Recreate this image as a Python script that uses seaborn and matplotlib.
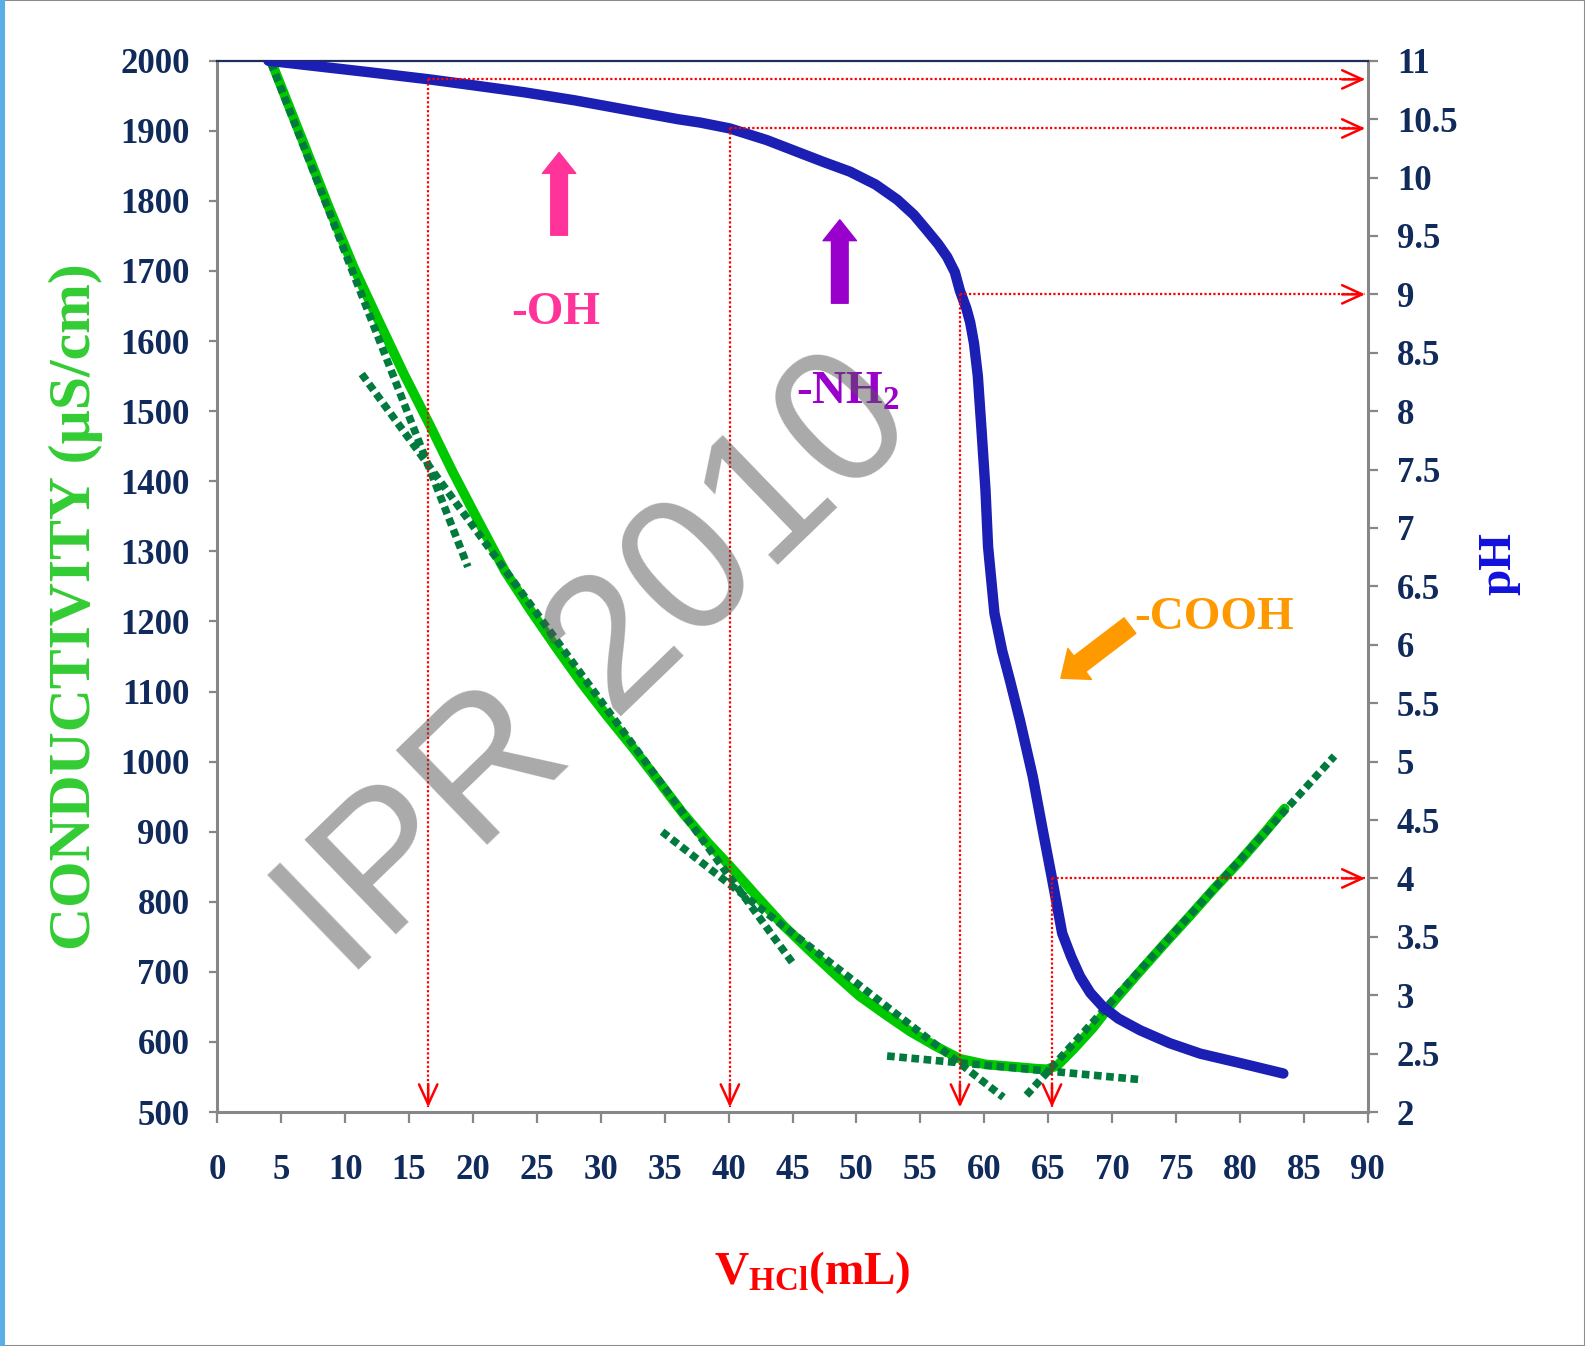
import matplotlib
matplotlib.use("Agg")
import matplotlib.pyplot as plt
import seaborn as sns
import pandas as pd
from matplotlib.patches import Rectangle

# ---------------- data ----------------
volume_cond = [4.2, 5.5, 6.7, 8.7, 10.7, 12.7, 14.6, 16.6, 18.4, 20.2, 22.5, 24.5,
               26.5, 28.5, 30.5, 32.5, 34.4, 36.4, 38.4, 40.1, 42.3, 44.3, 46.3, 48.3,
               50.2, 52.2, 54.2, 56.2, 58.1, 60.1, 62.1, 64.0, 64.9, 65.7, 67.0, 68.5,
               70.0, 72.0, 74.0, 76.0, 77.9, 80.0, 82.0, 83.5]
conductivity = [2000, 1940, 1885, 1792, 1704, 1626, 1553, 1481, 1414, 1351, 1272, 1216,
                1163, 1112, 1065, 1020, 975, 927, 884, 851, 806, 766, 731, 697,
                666, 640, 615, 594, 576, 568, 565, 562, 561, 566, 590, 620,
                655, 697, 738, 778, 817, 858, 900, 933]

volume_ph = [4.0, 8.0, 12.0, 16.6, 20.0, 24.0, 28.0, 32.0, 36.0, 37.8, 40.1, 43.0,
             45.6, 47.5, 49.5, 51.5, 53.2, 54.5, 55.5, 56.4, 57.1, 57.7, 58.1, 58.6,
             58.9, 59.2, 59.5, 59.8, 60.1, 60.3, 60.8, 61.4, 62.0, 62.8, 63.8, 64.6,
             65.3, 66.1, 66.8, 67.5, 68.3, 69.3, 70.5, 72.2, 74.5, 76.9, 80.0, 83.4]
ph_values = [11.0, 10.95, 10.9, 10.84, 10.79, 10.73, 10.66, 10.58, 10.5, 10.47, 10.42, 10.32,
             10.21, 10.13, 10.05, 9.94, 9.81, 9.68, 9.55, 9.43, 9.32, 9.19, 9.03, 8.88,
             8.76, 8.58, 8.3, 7.82, 7.32, 6.84, 6.27, 5.95, 5.7, 5.35, 4.87, 4.4,
             4.0, 3.53, 3.33, 3.16, 3.02, 2.90, 2.80, 2.70, 2.59, 2.50, 2.42, 2.33]

# straight tangent (trend) lines: start / end volume and conductivity
tangent_v = [[4.2, 19.6], [11.3, 45.0], [34.8, 61.5], [52.4, 72.4], [63.3, 87.4]]
tangent_c = [[1997, 1278], [1553, 713], [900, 521], [580, 546], [524, 1008]]

# equivalence points read on the pH curve
equiv_v = [16.5, 40.1, 58.1, 65.3]
equiv_ph = [10.84, 10.42, 9.0, 4.0]

x_ticks = list(range(0, 91, 5))
cond_ticks = list(range(500, 2001, 100))
ph_ticks = [2, 2.5, 3, 3.5, 4, 4.5, 5, 5.5, 6, 6.5, 7, 7.5, 8, 8.5, 9, 9.5, 10, 10.5, 11]

group_labels = ["-OH", "-NH$_{2}$", "-COOH"]
watermark = "IPR 2010"

# ---------------- style ----------------
sns.set_theme(style="white")
plt.rcParams["font.family"] = ["Liberation Serif", "DejaVu Serif"]
plt.rcParams["font.weight"] = "bold"
plt.rcParams["mathtext.fontset"] = "custom"
plt.rcParams["mathtext.rm"] = "Liberation Serif:bold"
plt.rcParams["mathtext.it"] = "Liberation Serif:italic:bold"
plt.rcParams["mathtext.bf"] = "Liberation Serif:bold"

NAVY = "#102A5C"
GRAY = "#878787"
GREEN = "#00C800"
DKGREEN = "#007A3D"
BLUE = "#1B1FB3"

fig = plt.figure(figsize=(15.85, 13.46), dpi=100)
fig.patch.set_facecolor("white")
ax = fig.add_axes([0.1371, 0.1738, 0.7258, 0.7811])
ax2 = ax.twinx()

# conductivity curve
df_c = pd.DataFrame({"V": volume_cond, "cond": conductivity})
sns.lineplot(data=df_c, x="V", y="cond", ax=ax, color=GREEN, lw=7,
             estimator=None, zorder=3)

# tangent lines
for tv, tc in zip(tangent_v, tangent_c):
    dft = pd.DataFrame({"V": tv, "cond": tc})
    sns.lineplot(data=dft, x="V", y="cond", ax=ax, color=DKGREEN, lw=5.5,
                 linestyle=(0, (1, 0.6)), dash_capstyle="butt",
                 estimator=None, zorder=4)

# pH curve
df_p = pd.DataFrame({"V": volume_ph, "pH": ph_values})
sns.lineplot(data=df_p, x="V", y="pH", ax=ax2, color=BLUE, lw=7.5,
             estimator=None, solid_capstyle="round", solid_joinstyle="round", zorder=3)

ax.set_xlim(0, 90)
ax.set_ylim(500, 2000)
ax2.set_ylim(2, 11)
ax.set_xticks(x_ticks)
ax.set_xticklabels([str(t) for t in x_ticks])
ax.set_yticks(cond_ticks)
ax.set_yticklabels([str(t) for t in cond_ticks])
ax2.set_yticks(ph_ticks)
ax2.set_yticklabels([f"{t:g}" for t in ph_ticks])
ax.set_xlabel("")
ax.set_ylabel("")
ax2.set_ylabel("")

# red dotted guide lines with arrowheads
ph_bottom = 2.04
v_right = 89.8
for v, p in zip(equiv_v, equiv_ph):
    ax2.plot([v, v], [p, ph_bottom], color="red", lw=1.6, linestyle=(0, (1, 1)), zorder=5)
    ax2.plot([v, v_right], [p, p], color="red", lw=1.6, linestyle=(0, (1, 1)), zorder=5)
    ax2.annotate("", xy=(v, ph_bottom), xytext=(v, ph_bottom + 0.2),
                 arrowprops=dict(arrowstyle="->,head_length=0.72,head_width=0.33",
                                 color="red", lw=1.8, shrinkA=0, shrinkB=0,
                                 mutation_scale=20), zorder=5)
    ax2.annotate("", xy=(v_right, p), xytext=(v_right - 1.8, p),
                 arrowprops=dict(arrowstyle="->,head_length=0.72,head_width=0.33",
                                 color="red", lw=1.8, shrinkA=0, shrinkB=0,
                                 mutation_scale=20), zorder=5)

# block arrows and group labels
ax.annotate("", xy=(26.74, 1869), xytext=(26.74, 1751),
            arrowprops=dict(arrowstyle="simple,head_length=15,head_width=24,tail_width=12",
                            color="#FF3399", shrinkA=0, shrinkB=0, mutation_scale=1), zorder=6)
ax.annotate("", xy=(48.7, 1773), xytext=(48.7, 1654),
            arrowprops=dict(arrowstyle="simple,head_length=15,head_width=24,tail_width=12",
                            color="#9900CC", shrinkA=0, shrinkB=0, mutation_scale=1), zorder=6)
ax.annotate("", xy=(66.0, 1119), xytext=(71.4, 1194),
            arrowprops=dict(arrowstyle="simple,head_length=17,head_width=28,tail_width=14",
                            color="#FF9900", shrinkA=0, shrinkB=0, mutation_scale=1), zorder=6)

ax.text(26.5, 1640, group_labels[0], color="#FF3399", fontsize=34,
        ha="center", va="center", zorder=6)
ax.text(45.3, 1511, group_labels[1], color="#9900CC", fontsize=34,
        ha="left", va="baseline", zorder=6)
ax.text(71.7, 1189, group_labels[2], color="#FF9900", fontsize=34,
        ha="left", va="baseline", zorder=6)

# spines
for a in (ax, ax2):
    for s in a.spines.values():
        s.set_visible(False)
ax.spines["left"].set_visible(True)
ax.spines["left"].set_color(GRAY)
ax.spines["left"].set_linewidth(2.2)
ax.spines["bottom"].set_visible(True)
ax.spines["bottom"].set_color(GRAY)
ax.spines["bottom"].set_linewidth(2.2)
ax2.spines["right"].set_visible(True)
ax2.spines["right"].set_color(GRAY)
ax2.spines["right"].set_linewidth(2.2)
ax2.spines["top"].set_visible(True)
ax2.spines["top"].set_color("#1F2D5A")
ax2.spines["top"].set_linewidth(1.6)

ax.tick_params(axis="x", bottom=True, direction="out", length=8, width=1.6,
               color=GRAY, pad=22, labelsize=25, labelcolor=NAVY)
ax.tick_params(axis="y", left=True, direction="out", length=6, width=1.6,
               color=GRAY, pad=14, labelsize=25, labelcolor=NAVY)
ax2.tick_params(axis="y", right=True, left=False, direction="out", length=7, width=1.6,
                color=GRAY, pad=14, labelsize=25, labelcolor=NAVY)

# axis titles
fig.text(76 / 1585, 1 - 607 / 1346, "CONDUCTIVITY (µS/cm)", color="#33CC33",
         fontsize=43, rotation=90, ha="center", va="center")
fig.text(1499 / 1585, 1 - 564 / 1346, "pH", color="#1111DD",
         fontsize=34, rotation=90, ha="center", va="center")
fig.text(812 / 1585, 1 - 1284 / 1346, r"V$_{\mathrm{HCl}}$(mL)", color="red",
         fontsize=34, ha="center", va="baseline")

# watermark
fig.text(600 / 1585, 1 - 668 / 1346, watermark, family="Liberation Sans",
         fontweight="normal", fontsize=138, color="#555555", alpha=0.5,
         rotation=44, ha="center", va="center", zorder=10)

# frame of the slide
fig.add_artist(Rectangle((0, 0), 1, 1, transform=fig.transFigure, fill=False,
                         edgecolor="#8C8C8C", lw=1.5))
fig.add_artist(Rectangle((0, 0), 5 / 1585, 1, transform=fig.transFigure,
                         facecolor="#5AAEE6", edgecolor="none"))

fig.savefig("out.png", dpi=100, facecolor="white")
